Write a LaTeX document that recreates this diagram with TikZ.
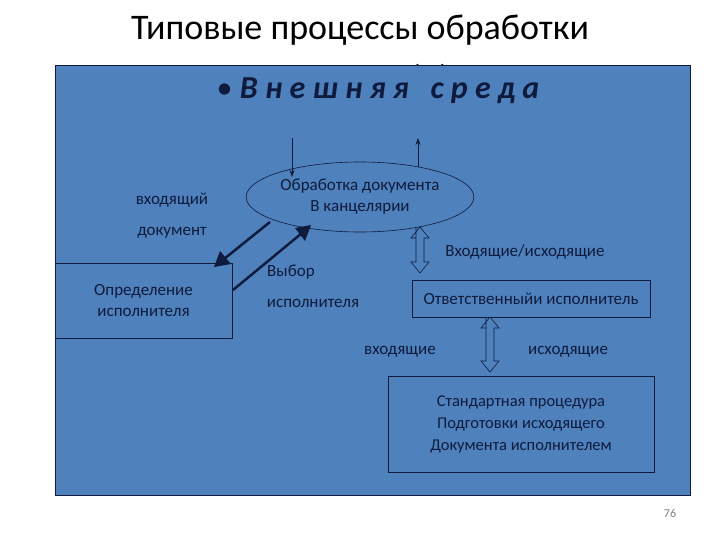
\documentclass[tikz,border=0pt]{standalone}
\usepackage{fontspec}
\setmainfont{Carlito}
\usetikzlibrary{shapes.geometric,arrows.meta}
\definecolor{bg}{HTML}{4F81BD}
\definecolor{ink}{HTML}{0F1B3C}
\tikzset{
  lbl/.style={text=ink,font=\fontsize{17}{21}\selectfont,align=center,inner sep=1pt},
  boxst/.style={draw=ink,thick,lbl},
  thinarr/.style={draw=ink,semithick,-{Stealth[length=7pt,width=5pt]}},
  thickarr/.style={draw=ink,line width=2.5pt},
  headst/.style={fill=ink,draw=none},
  pics/darrow/.style={code={\draw[ink,semithick,fill=bg] (-4,0)--(-4,#1-11)--(-9,#1-11)--(0,#1)--(9,#1-11)--(4,#1-11)--(4,11)--(9,11)--(0,0)--(-9,11)--(-4,11)--cycle;}}
}
\begin{document}
\begin{tikzpicture}[x=1pt,y=-1pt]
\useasboundingbox (0,0) rectangle (720,540);
\fill[white] (0,0) rectangle (720,540);
\node[font=\fontsize{36}{40}\selectfont] (t1) at (360,30) {Типовые процессы обработки};
\node[font=\fontsize{36}{40}\selectfont] (t2) at (430,80) {(2)};
\fill[bg] (55,65) rectangle (690,495);
\draw[ink,semithick] (55,65) rectangle (690,495);
\node[text=ink,font=\fontsize{32}{36}\selectfont] (ve) at (378,91) {\textbullet\ \textbf{\textit{В н е ш н я я \ \ с р е д а}}};
\node[draw=ink,semithick,ellipse,minimum width=204pt,minimum height=70pt,inner sep=0pt,lbl] (ob) at (360,197) {Обработка документа\\В канцелярии};
\coordinate (din) at (292,138);
\coordinate (uout) at (418,138);
\draw[thinarr] (din) -- (292,177);
\draw[thinarr] (418,167) -- (uout);
\node[boxst,minimum width=177pt,minimum height=75pt] (opr) at (143.5,300.5) {Определение\\исполнителя};
% thick arrow 1: towards (216,265)
\draw[thickarr] (270,222) -- (224,259);
\fill[headst] (214,267) -- (220,251) -- (231,264) -- cycle;
% thick arrow 2: towards (310,226)
\draw[thickarr] (233,290) -- (302,233);
\fill[headst] (311,225) -- (305,241) -- (295,228) -- cycle;
\node[lbl] (l1) at (172,200) {входящий};
\node[lbl] (l2) at (172,233) {документ};
\node[lbl] (l3) at (291,272) {Выбор};
\node[lbl] (l4) at (313,303) {исполнителя};
\node[boxst,minimum width=238pt,minimum height=37pt] (otv) at (531,298.5) {Ответственныйи исполнитель};
\pic at (420,227) {darrow=46};
\node[lbl] (l5) at (525,252) {Входящие/исходящие};
\pic at (490,317) {darrow=55};
\node[lbl] (l6) at (400,352) {входящие};
\node[lbl] (l7) at (568,352) {исходящие};
\node[boxst,minimum width=266pt,minimum height=96pt,font=\fontsize{16.5}{22}\selectfont] (std) at (521,424) {Стандартная процедура\\Подготовки  исходящего\\Документа исполнителем};
\node[text=gray,font=\fontsize{12}{14}\selectfont] (pg) at (670,513) {76};
\end{tikzpicture}
\end{document}
